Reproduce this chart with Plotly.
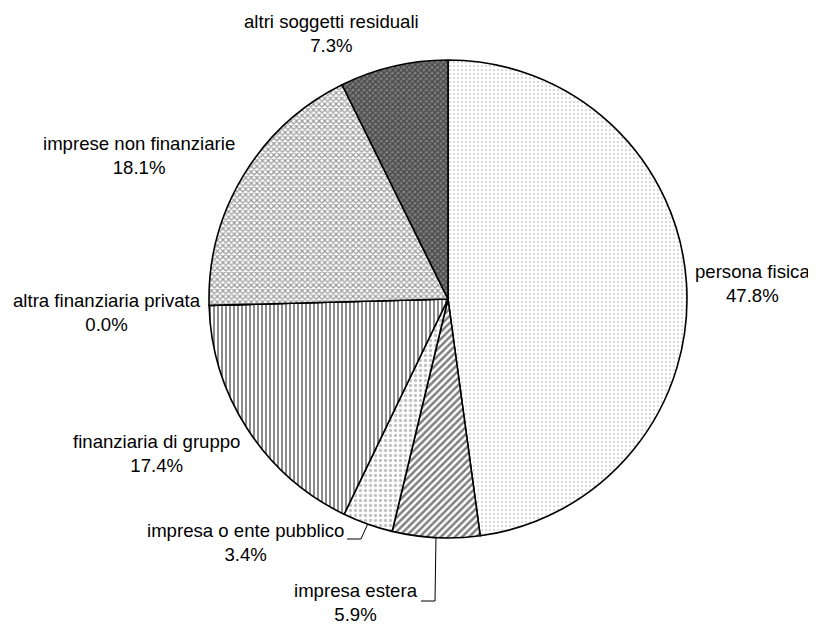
import math
import plotly.graph_objects as go

# ---- data ----
labels = ["persona fisica", "impresa estera", "impresa o ente pubblico",
          "finanziaria di gruppo", "altra finanziaria privata",
          "imprese non finanziarie", "altri soggetti residuali"]
values = [47.8, 5.9, 3.4, 17.4, 0.0, 18.1, 7.3]

# ---- layout constants ----
W, H = 816, 626
OFF = 8                    # page body margin
CX, CY, R = 448, 299, 239  # pie centre / radius in window pixels

def px(x):
    return (x - OFF) / W

def py(y):
    return 1 - (y - OFF) / H

patterns = dict(
    shape=[".", "/", ".", "|", "", "x", "x"],
    size=[4, 5, 5, 4, 4, 4, 4],
    solidity=[0.12, 0.5, 0.35, 0.45, 0.3, 0.5, 0.6],
    fgcolor=["#444444", "#000000", "#888888", "#000000", "#000000", "#333333", "#111111"],
    bgcolor=["#ffffff", "#ffffff", "#ffffff", "#ffffff", "#ffffff", "#ffffff", "#808080"],
    fillmode="overlay",
)

fig = go.Figure(go.Pie(
    labels=labels,
    values=values,
    sort=False,
    direction="clockwise",
    rotation=0,
    textinfo="none",
    hoverinfo="label+percent",
    showlegend=False,
    marker=dict(colors=["#ffffff"] * 6 + ["#808080"],
                line=dict(color="#000000", width=1.6),
                pattern=patterns),
    domain=dict(x=[px(CX - R), px(CX + R)], y=[py(CY + R), py(CY - R)]),
))

# label block centres (window pixels)
label_pos = {
    "persona fisica": (752, 284),
    "impresa estera": (356, 602),
    "impresa o ente pubblico": (245, 542),
    "finanziaria di gruppo": (156, 453),
    "altra finanziaria privata": (107, 312),
    "imprese non finanziarie": (139, 156),
    "altri soggetti residuali": (331, 33),
}

annotations = []
for lab, v in zip(labels, values):
    x, y = label_pos[lab]
    annotations.append(dict(
        x=px(x), y=py(y), xref="paper", yref="paper",
        text=f"{lab}<br>{v:.1f}%", showarrow=False,
        xanchor="center", yanchor="middle", align="center",
        font=dict(family="Liberation Sans, Arial, sans-serif", size=18.6, color="#000000"),
    ))

# leader lines computed from slice mid-angles
total = sum(values)
cum = 0
mid = {}
for lab, v in zip(labels, values):
    mid[lab] = (cum + v / 2) / total * 2 * math.pi
    cum += v

def arc_pt(lab):
    a = mid[lab]
    return CX + R * math.sin(a), CY - R * math.cos(a)

shapes = []
leaders = {
    "impresa o ente pubblico": (347, 361, 539),
    "impresa estera": (421, 435, 601),
}
for lab, (x0, x1, yl) in leaders.items():
    ax, ay = arc_pt(lab)
    shapes.append(dict(type="line", xref="paper", yref="paper",
                       x0=px(x0), y0=py(yl), x1=px(x1), y1=py(yl),
                       line=dict(color="#000000", width=1)))
    shapes.append(dict(type="line", xref="paper", yref="paper",
                       x0=px(x1), y0=py(yl), x1=px(ax), y1=py(ay),
                       line=dict(color="#000000", width=1)))

fig.update_layout(
    width=W, height=H,
    margin=dict(l=0, r=0, t=0, b=0),
    paper_bgcolor="#ffffff", plot_bgcolor="#ffffff",
    annotations=annotations, shapes=shapes,
)

fig.write_html("out.html")
